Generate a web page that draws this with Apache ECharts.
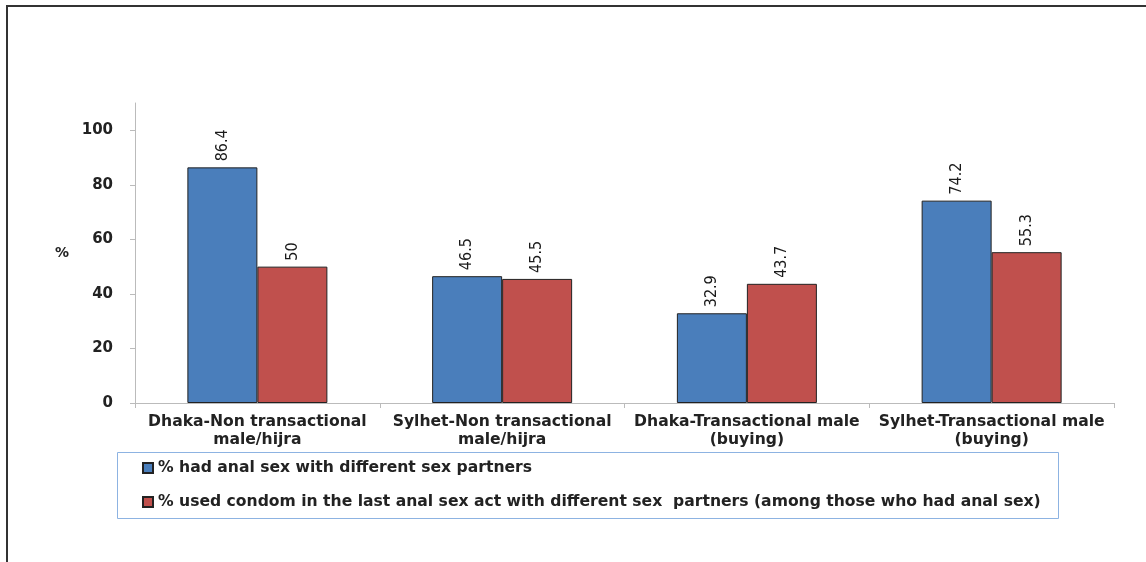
<!DOCTYPE html>
<html>
<head>
<meta charset="utf-8">
<script src="https://cdn.jsdelivr.net/npm/echarts@6/dist/echarts.min.js"></script>
<style>
  html, body { margin: 0; padding: 0; background: #fff; }
  #chart { width: 1146px; height: 562px; }
</style>
</head>
<body>
<div id="chart"></div>
<script>
// Groups shown along the x axis
const categories = [
  'Dhaka-Non transactional\nmale/hijra',
  'Sylhet-Non transactional\nmale/hijra',
  'Dhaka-Transactional male\n(buying)',
  'Sylhet-Transactional male\n(buying)'
];

const seriesNames = [
  '% had anal sex with different sex partners',
  '% used condom in the last anal sex act with different sex  partners (among those who had anal sex)'
];

// Percentages per group
const hadAnalSex = [86.4, 46.5, 32.9, 74.2];
const usedCondom = [50, 45.5, 43.7, 55.3];

const yTicks = [0, 20, 40, 60, 80, 100];

const labelFont = '"Liberation Sans Narrow", "DejaVu Sans Condensed", "Arial Narrow", sans-serif';
const boldFont = '"DejaVu Sans", Verdana, sans-serif';

const barLabel = {
  show: true,
  position: 'top',
  rotate: 90,
  align: 'left',
  verticalAlign: 'middle',
  distance: 6,
  fontFamily: labelFont,
  fontSize: 16,
  color: '#1a1a1a'
};

const chart = echarts.init(document.getElementById('chart'), null, { renderer: 'canvas' });

chart.setOption({
  backgroundColor: '#fff',
  animation: false,
  graphic: [
    {
      type: 'rect',
      shape: { x: 7, y: 6, width: 1200, height: 600 },
      style: { fill: 'none', stroke: '#333', lineWidth: 2 },
      z: 0
    },
    {
      type: 'rect',
      shape: { x: 117.5, y: 452.5, width: 941, height: 66 },
      style: { fill: '#fff', stroke: '#8db3e2', lineWidth: 1 },
      z: 0
    }
  ],
  grid: { left: 135, right: 32, top: 103, bottom: 159, containLabel: false },
  legend: {
    orient: 'vertical',
    left: 137,
    top: 455,
    itemWidth: 10,
    itemHeight: 10,
    itemGap: 18,
    icon: 'rect',
    textStyle: { fontFamily: boldFont, fontWeight: 'bold', fontSize: 15.6, color: '#222' },
    data: seriesNames,
    z: 5
  },
  xAxis: {
    type: 'category',
    data: categories,
    axisLine: { lineStyle: { color: '#bbb', width: 1 } },
    axisTick: { show: true, alignWithLabel: false, length: 5, lineStyle: { color: '#bbb' } },
    axisLabel: {
      interval: 0,
      margin: 10,
      lineHeight: 18,
      fontFamily: boldFont,
      fontWeight: 'bold',
      fontSize: 15.6,
      color: '#222'
    },
    splitLine: { show: false }
  },
  yAxis: {
    type: 'value',
    min: 0,
    max: 110,
    interval: 10,
    name: '%',
    nameLocation: 'middle',
    nameRotate: 0,
    nameGap: 66,
    nameTextStyle: { fontFamily: boldFont, fontWeight: 'bold', fontSize: 14, color: '#222' },
    axisLine: { show: true, lineStyle: { color: '#bbb', width: 1 } },
    axisTick: { show: true, length: 5, customValues: yTicks, lineStyle: { color: '#bbb' } },
    axisLabel: {
      customValues: yTicks,
      margin: 22,
      fontFamily: boldFont,
      fontWeight: 'bold',
      fontSize: 15,
      color: '#222'
    },
    splitLine: { show: false }
  },
  series: [
    {
      name: seriesNames[0],
      type: 'bar',
      data: hadAnalSex,
      barWidth: 70,
      barGap: '0%',
      itemStyle: { color: '#4a7ebb', borderColor: '#222', borderWidth: 1 },
      label: barLabel
    },
    {
      name: seriesNames[1],
      type: 'bar',
      data: usedCondom,
      barWidth: 70,
      itemStyle: { color: '#c0504d', borderColor: '#222', borderWidth: 1 },
      label: barLabel
    }
  ]
});
</script>
</body>
</html>
